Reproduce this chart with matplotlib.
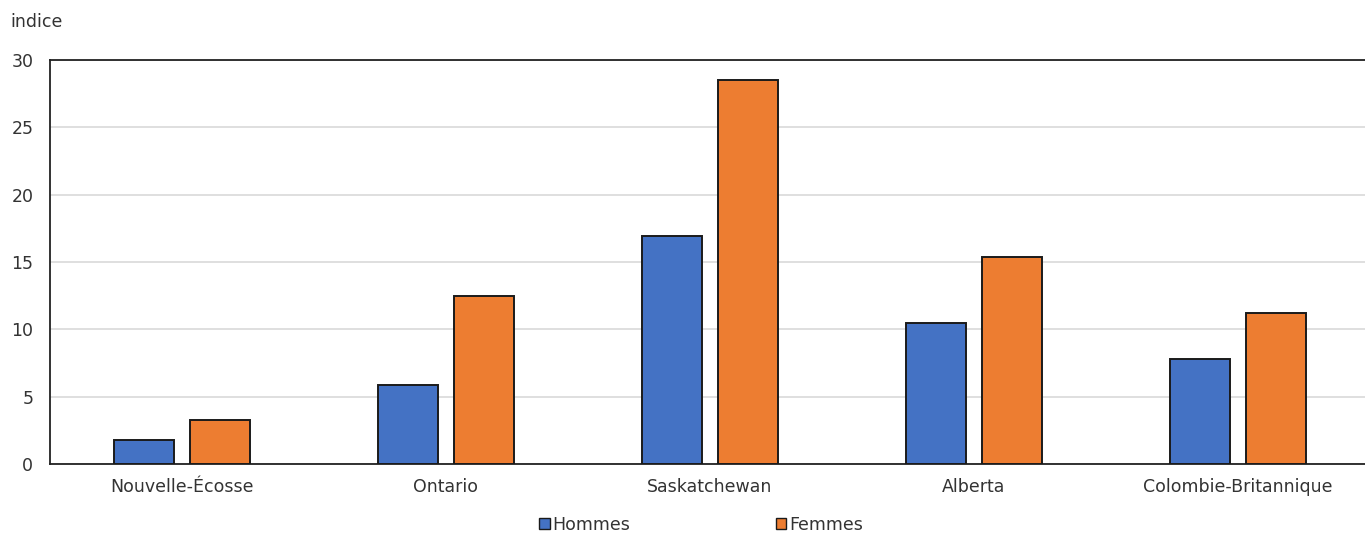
import matplotlib
matplotlib.use('Agg')
import matplotlib.pyplot as plt
import numpy as np
from matplotlib.patches import Patch

provinces = ['Nouvelle-Écosse', 'Ontario', 'Saskatchewan', 'Alberta', 'Colombie-Britannique']
hommes = [1.8, 5.9, 16.9, 10.5, 7.8]
femmes = [3.3, 12.5, 28.5, 15.4, 11.2]
yticks = [0, 5, 10, 15, 20, 25, 30]

BLEU = '#4472C4'
ORANGE = '#ED7D31'
TEXTE = '#333333'

plt.rcParams['font.family'] = 'DejaVu Sans'
plt.rcParams['font.size'] = 12.5

fig = plt.figure(figsize=(13.65, 5.33), dpi=100)
ax = fig.add_axes([50 / 1365, 1 - 464 / 533, 1320 / 1365, 404 / 533])

x = np.arange(len(provinces))
larg = 0.228
ax.bar(x - 0.1426, hommes, larg, color=BLEU, edgecolor='#1a1a1a', linewidth=1.4, zorder=3)
ax.bar(x + 0.1426, femmes, larg, color=ORANGE, edgecolor='#1a1a1a', linewidth=1.4, zorder=3)

ax.set_xlim(-0.5, len(provinces) - 0.5)
ax.set_ylim(0, 30)
ax.set_yticks(yticks)
ax.set_xticks(x)
ax.set_xticklabels(provinces, fontsize=12.5, color=TEXTE)
ax.tick_params(axis='y', length=0, pad=12, labelsize=12.5, labelcolor=TEXTE)
ax.tick_params(axis='x', length=0, pad=10)

# grille
ax.grid(axis='y', color='#d9d9d9', linewidth=1.2, zorder=0)
ax.spines['right'].set_visible(False)
for s in ['top', 'left', 'bottom']:
    ax.spines[s].set_color('#222222')
    ax.spines[s].set_linewidth(1.3)

fig.text(10 / 1365, 1 - 22 / 533, 'indice', fontsize=12.5, va='center', ha='left', color=TEXTE)

handles = [Patch(facecolor=BLEU, edgecolor='#1a1a1a', label='Hommes'),
           Patch(facecolor=ORANGE, edgecolor='#1a1a1a', label='Femmes')]
leg = fig.legend(handles=handles, loc='center', bbox_to_anchor=(701 / 1365, 1 - 525 / 533),
                 ncol=2, frameon=False, fontsize=12.5, handlelength=0.6, handleheight=0.6,
                 handletextpad=0.15, columnspacing=8.4)
for t in leg.get_texts():
    t.set_color(TEXTE)

fig.savefig('out.png', dpi=100)
